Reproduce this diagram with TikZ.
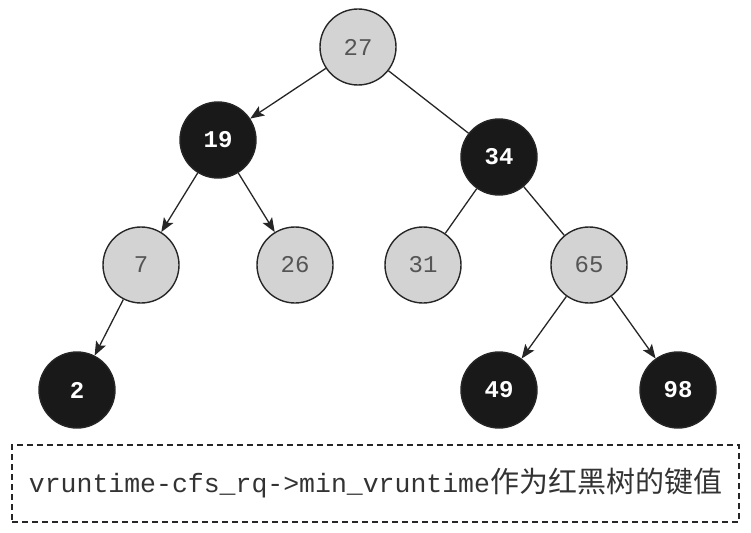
\documentclass[tikz,border=0pt]{standalone}
\usepackage{fontspec}
\setmonofont{Liberation Mono}
\newfontfamily\cjk{Noto Sans CJK SC}
\usetikzlibrary{arrows.meta}
\definecolor{keyfill}{HTML}{D3D3D3}
\definecolor{keytext}{HTML}{555555}
\definecolor{notetext}{HTML}{333333}
\tikzset{%
  % node classes
  key/.style={circle, draw=black!85, line width=1.4pt, minimum size=76pt, inner sep=0pt,
    font=\ttfamily\fontsize{24}{24}\selectfont},
  rnode/.style={key, fill=keyfill, text=keytext},
  bnode/.style={key, fill=black!90, text=white, font=\ttfamily\bfseries\fontsize{24}{24}\selectfont},
  % edge styles
  child/.style={-{Stealth[length=14pt,width=11pt,inset=3pt]}, line width=1.3pt, draw=black!85},
  tie/.style={line width=1.3pt, draw=black!85},
  note/.style={draw=black!85, line width=1.2pt, dash pattern=on 6pt off 4pt,
    minimum width=727pt, minimum height=77pt, inner sep=0pt, text=notetext},
}
\begin{document}
\begin{tikzpicture}[x=1pt, y=-1pt]
  \useasboundingbox (0,0) rectangle (751,532);

  \node[rnode] (k27) at (358,47) {27};
  \node[bnode] (k19) at (218,140) {19};
  \node[bnode] (k34) at (499,157) {34};
  \node[rnode] (k7)  at (141,265) {7};
  \node[rnode] (k26) at (295,265) {26};
  \node[rnode] (k31) at (423,265) {31};
  \node[rnode] (k65) at (589,265) {65};
  \node[bnode] (k2)  at (77,390)  {2};
  \node[bnode] (k49) at (499,390) {49};
  \node[bnode] (k98) at (678,390) {98};

  \draw[child] (k27) -- (k19);
  \draw[tie]   (k27) -- (k34);
  \draw[child] (k19) -- (k7);
  \draw[child] (k19) -- (k26);
  \draw[tie]   (k34) -- (k31);
  \draw[tie]   (k34) -- (k65);
  \draw[child] (k7)  -- (k2);
  \draw[child] (k65) -- (k49);
  \draw[child] (k65) -- (k98);

  \node[note] (key) at (375.5,483.5)
    {{\ttfamily\fontsize{26.5}{26.5}\selectfont vruntime-cfs\_rq->min\_vruntime}{\cjk\fontsize{29}{29}\selectfont 作为红黑树的键值}};
\end{tikzpicture}
\end{document}
